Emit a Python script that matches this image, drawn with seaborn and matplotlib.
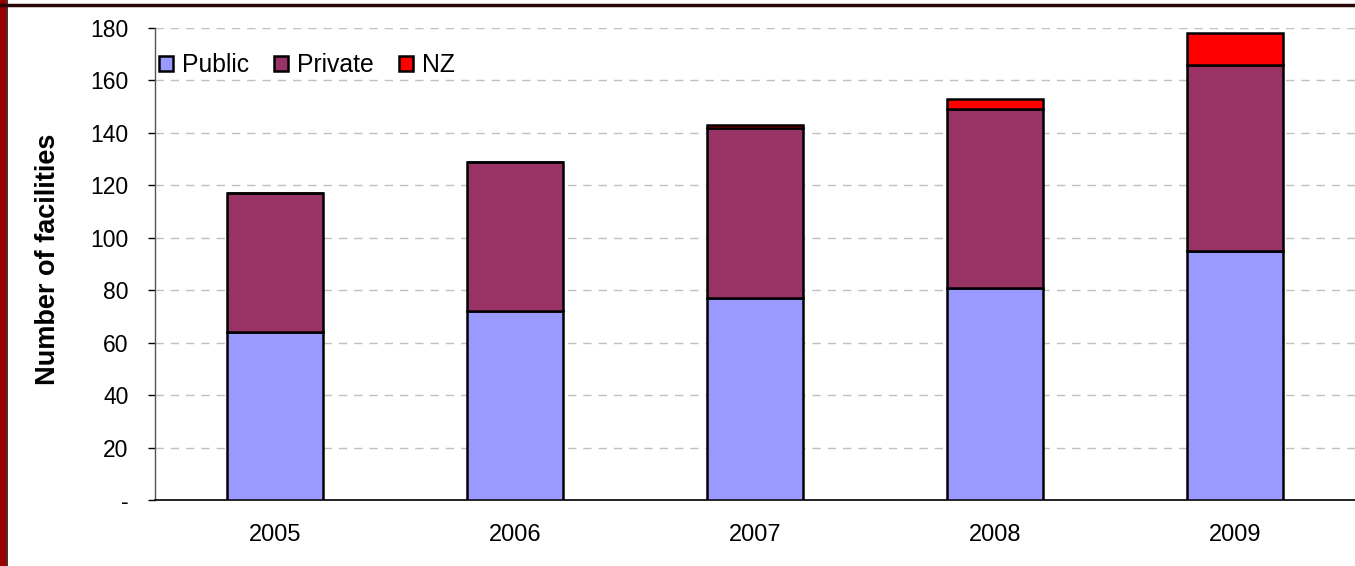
"""
Stacked bar chart of facility counts by year (Public / Private / NZ).
"""

import numpy as np
import matplotlib.pyplot as plt
import seaborn as sns
from matplotlib.patches import Patch, Rectangle
from matplotlib.lines import Line2D

# data
years = ['2005', '2006', '2007', '2008', '2009']
public = np.array([64, 72, 77, 81, 95])
private = np.array([53, 57, 65, 68, 71])
nz = np.array([0, 0, 1, 4, 12])

y_ticks = [0, 20, 40, 60, 80, 100, 120, 140, 160, 180]
y_tick_labels = ['-', '20', '40', '60', '80', '100', '120', '140', '160', '180']

colors = {'Public': '#9999FF', 'Private': '#993366', 'NZ': '#FF0000'}


def main():
    sns.set_style("white")
    plt.rcParams['font.family'] = ['Liberation Sans', 'DejaVu Sans']
    plt.rcParams['text.color'] = 'black'
    plt.rcParams['axes.labelcolor'] = 'black'
    plt.rcParams['xtick.color'] = 'black'
    plt.rcParams['ytick.color'] = 'black'

    fig = plt.figure(figsize=(13.55, 5.66), dpi=100)
    ax = fig.add_axes([155 / 1355, 1 - 500 / 566, 1200 / 1355, 472 / 566])

    bar_kw = dict(width=0.4, saturation=1, edgecolor='black', linewidth=1.8, zorder=3)
    sns.barplot(x=years, y=public, color=colors['Public'], ax=ax, **bar_kw)
    sns.barplot(x=years, y=private, bottom=public, color=colors['Private'], ax=ax, **bar_kw)
    sns.barplot(x=years, y=nz, bottom=public + private, color=colors['NZ'], ax=ax, **bar_kw)

    ax.set_xlim(-0.5, 4.5)
    ax.set_ylim(0, 180)
    ax.set_yticks(y_ticks)
    ax.set_yticklabels(y_tick_labels, fontsize=16.5)
    ax.tick_params(axis='y', length=5, width=1, direction='out', pad=14, left=True)
    ax.tick_params(axis='x', length=0, pad=17, labelsize=17)
    ax.set_xlabel('')
    ax.set_ylabel('Number of facilities', fontsize=19.5, fontweight='bold')
    ax.yaxis.set_label_coords(-0.078, 0.51)

    ax.grid(True, axis='y', color='#c0c0c0', linestyle=(0, (6, 5)), linewidth=1, zorder=0)
    ax.set_axisbelow(True)
    for side in ['top', 'right']:
        ax.spines[side].set_visible(False)
    ax.spines['left'].set_color('#555555')
    ax.spines['left'].set_linewidth(1)
    ax.spines['bottom'].set_color('black')
    ax.spines['bottom'].set_linewidth(1.2)

    handles = [Patch(facecolor=colors[k], edgecolor='black', linewidth=1.8, label=k)
               for k in ['Public', 'Private', 'NZ']]
    ax.legend(handles=handles, loc='upper left', bbox_to_anchor=(-0.009, 0.978), ncol=3,
              frameon=False, fontsize=17.8, handlelength=0.58, handleheight=0.58,
              handletextpad=0.36, columnspacing=1.0, borderaxespad=0.2)

    # page frame: red strip on the left and dark rule on top
    fig.patches.append(Rectangle((0, 0), 6 / 1355, 1, transform=fig.transFigure,
                                 facecolor='#990000', edgecolor='none', zorder=10))
    fig.lines.append(Line2D([6.5 / 1355, 6.5 / 1355], [0, 1], transform=fig.transFigure,
                            color='#2a0808', linewidth=1.2, zorder=11))
    fig.lines.append(Line2D([0, 1], [1 - 4.5 / 566, 1 - 4.5 / 566], transform=fig.transFigure,
                            color='#2a0808', linewidth=2.5, zorder=11))

    fig.savefig('out.png', dpi=100)
    plt.close(fig)


if __name__ == '__main__':
    main()
